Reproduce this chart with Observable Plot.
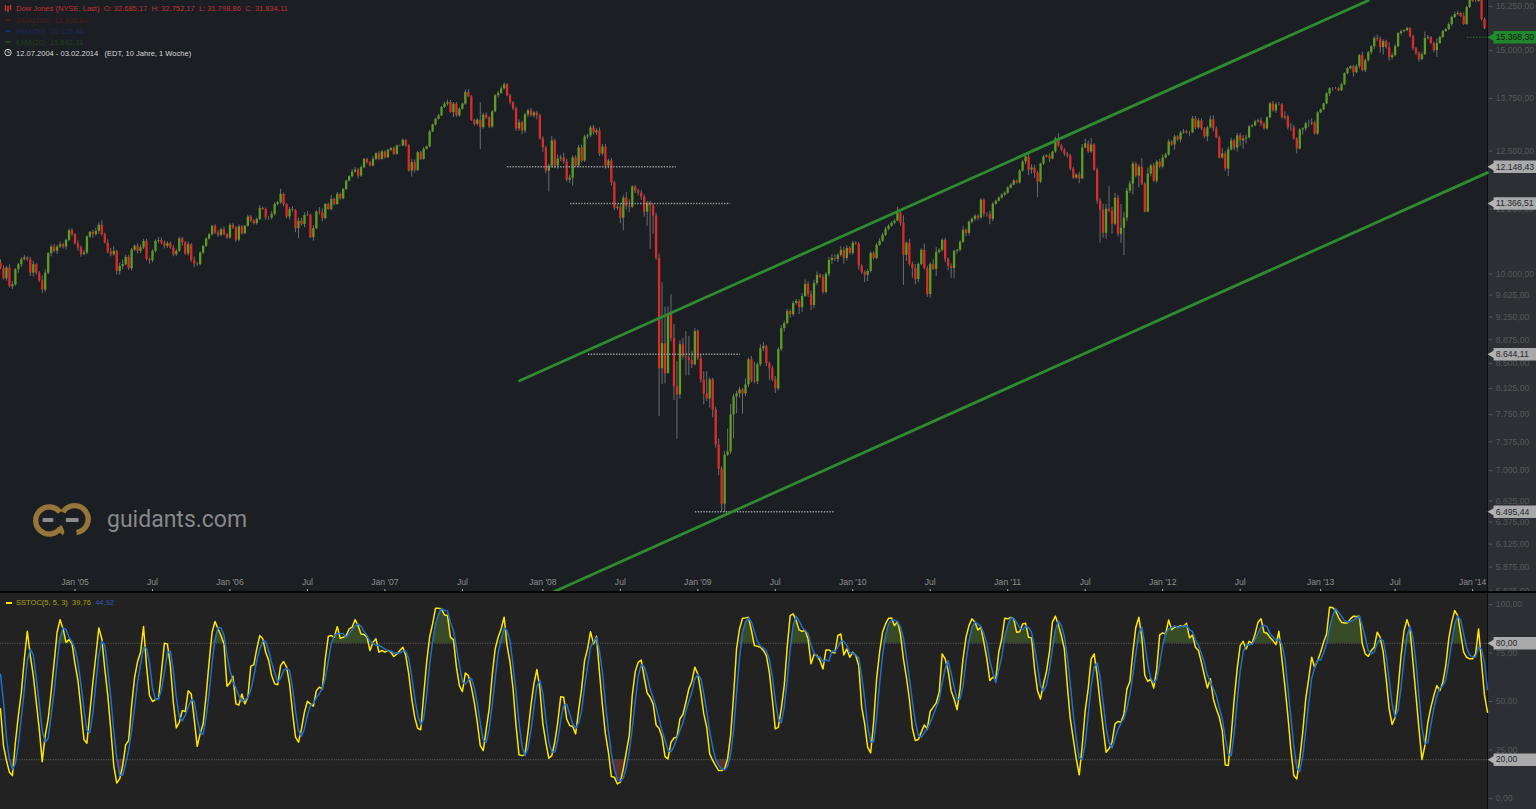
<!DOCTYPE html>
<html><head><meta charset="utf-8">
<script src="https://cdn.jsdelivr.net/npm/d3@7"></script>
<script src="https://cdn.jsdelivr.net/npm/@observablehq/plot@0.6"></script>
<style>
html,body{margin:0;padding:0;background:#1b1e23;overflow:hidden}
#page{position:relative;width:1536px;height:809px;font-family:"Liberation Sans",sans-serif}
#sep{height:2px;background:#050505}
#main svg,#lower svg{display:block}
.lg{position:absolute;font-size:7.55px;line-height:11px;white-space:pre}
.ov{position:absolute;left:0;top:0}
</style></head><body>
<div id="page">
<div id="main"></div><div id="sep"></div><div id="lower"></div>
<svg class="ov" width="300" height="60">
<g stroke="#c0322f"><path d="M5.5 5V11M8 6V12M10.5 5V10" stroke-width="1.6"/></g>
<path d="M5 20H11" stroke="#4f1b1b" stroke-width="2"/><path d="M5 31H11" stroke="#1a2b5c" stroke-width="2"/><path d="M5 42H11" stroke="#1d421f" stroke-width="2"/>
<circle cx="8" cy="52.5" r="3.2" fill="none" stroke="#d5d5d5"/><path d="M8 50.5V52.7H9.7" fill="none" stroke="#d5d5d5" stroke-width=".8"/>
</svg>
<div class="lg" style="left:16px;top:3px;color:#c0322f">Dow Jones (NYSE, Last)  O: 32.685,17  H: 32.752,17  L: 31.798,86  C: 31.834,11</div>
<div class="lg" style="left:16px;top:15px;color:#4f1b1b">SMA(200)  12.935,84</div>
<div class="lg" style="left:16px;top:26px;color:#1a2b5c">EMA(50)  15.316,44</div>
<div class="lg" style="left:16px;top:37px;color:#1d421f">EMA(20)  15.892,31</div>
<div class="lg" style="left:16px;top:48px;color:#d8d8d8">12.07.2004 - 03.02.2014   (EDT, 10 Jahre, 1 Woche)</div>
<svg class="ov" style="left:30px;top:500px" width="62" height="40" viewBox="30 500 64 40">
<g fill="none" stroke="#96753a" stroke-width="5.5"><path d="M61 529A14 14 0 1 1 61 512"/><path d="M64 512A14 14 0 1 1 78 533"/><path d="M60 527Q64 532 62 534"/></g>
<path d="M43 520H54M67 520H80" stroke="#8c8c8c" stroke-width="4"/>
</svg>
<div class="lg" style="left:107px;top:506px;font:23px/28px Roboto,sans-serif;color:#87888a">guidants.com</div>
<svg class="ov" style="top:600px" width="14" height="6"><path d="M6 3H12" stroke="#ffe600" stroke-width="2"/></svg>
<div class="lg" style="left:16px;top:597px;color:#a8a015">SSTOC(5, 5, 3)  39,76  <span style="color:#2a5cad">44,92</span></div>
</div>
<script>
const firstOpen = 10200;
const closes = [
10109,9913,10109,9772,9803,10078,10170,10263,10295,10257,
10016,10170,10016,9876,9713,10016,10376,10503,10420,10503,
10547,10503,10631,10819,10741,10560,10484,10357,10389,10696,
10787,10741,10806,10925,10741,10579,10407,10357,10420,10047,
10140,10170,10307,10096,10445,10515,10420,10484,10611,10263,
10245,10420,10611,10624,10579,10515,10566,10484,10357,10420,
10656,10579,10370,10547,10245,10183,10170,10389,10515,10656,
10741,10905,10773,10728,10839,10741,10676,10925,10872,10631,
10892,10760,10905,11091,11005,10958,11039,11262,11241,11072,
11072,11140,11345,11379,11553,11345,11091,11241,11220,10859,
11005,10938,11119,11126,10683,10859,11193,11173,11059,11345,
11241,11448,11345,11553,11462,11659,11837,11931,12032,12076,
11945,12128,12313,12239,12165,12313,12440,12313,12478,12350,
12516,12555,12425,12616,12616,12747,12616,12054,12239,12069,
12463,12313,12540,12593,12942,13108,13243,13324,13528,13611,
13652,13406,13611,13324,13487,13611,13903,13794,13219,13122,
13219,13043,13340,13275,13059,13422,13819,13878,13996,14099,
13819,13644,13495,13013,13155,12965,13349,13446,13325,13397,
13325,12778,12570,12054,12165,12731,12165,12321,12343,12254,
11859,11902,12343,12165,12570,12276,12825,12848,13036,12918,
12965,12433,12591,12165,12276,11794,11269,11289,11066,11475,
11310,11289,11709,11623,11581,11497,11187,11372,11310,11106,
10288,8420,8812,8344,9290,8893,8148,8030,8796,8606,
8590,8544,8482,9007,8575,8253,8045,7972,8253,7815,
7332,7018,6585,7199,7239,7744,8001,8045,8104,8045,
8178,8559,8238,8223,8482,8733,8765,8497,8420,8253,
8119,8717,9056,9139,9341,9290,9479,9513,9410,9600,
9813,9635,9444,9830,9975,9938,9670,9993,10250,10288,
10269,10345,10439,10288,10477,10382,10572,10553,10140,10029,
9975,10047,10382,10288,10534,10611,10728,10846,10905,10965,
11005,11167,10965,10345,10572,10176,10102,9902,10176,10439,
10102,9635,10176,10084,10401,10439,10630,10269,10140,10102,
10420,10439,10592,10826,10767,10985,11045,11106,11066,11434,
11145,11145,11045,11351,11413,11475,11539,11581,11687,11751,
11837,11794,12054,12254,12366,12076,12121,12010,11816,12209,
12366,12388,12321,12478,12778,12616,12524,12433,12388,12098,
11902,11967,11880,12570,12662,12478,12639,12076,11413,11228,
10767,11248,11207,10945,11475,10747,10866,11066,11623,11773,
12209,11945,12143,11773,11187,11988,12165,11837,12254,12143,
12343,12411,12708,12639,12825,12754,12918,12941,12918,12918,
13251,13036,13203,13013,12825,13036,13227,13013,12801,12343,
12433,12098,12524,12731,12570,12848,12731,12778,12801,13060,
13084,13179,13203,13131,13013,13276,13618,13446,13594,13594,
13276,13300,13036,13036,12778,12547,12989,13013,13131,13131,
13155,12895,13397,13470,13618,13868,13996,13996,13996,13945,
14099,14384,14515,14568,14410,14568,14863,14462,14728,14944,
15108,15330,15302,15080,15246,15080,14809,14863,15108,15470,
15526,15554,15611,15386,15053,14917,14755,14890,15330,15358,
15190,14998,15190,15358,15526,15582,15726,15929,16015,16044,
15956,15726,16220,16460,16400,16400,16428,15869,15611];
const upperWicks = [
60,40,30,60,60,20,30,40,50,20, 50,60,20,30,90,60,20,40,50,30,
50,30,20,30,40,20,60,40,50,20, 20,40,60,50,90,30,60,70,90,20,
60,90,40,40,30,30,50,60,40,40, 30,30,30,60,50,40,40,30,40,30,
40,30,30,50,20,70,30,20,20,20, 20,20,30,40,30,50,20,30,40,30,
40,30,20,40,30,30,30,60,30,30, 30,60,40,30,110,30,20,40,60,20,
60,60,50,80,20,60,20,90,80,20, 30,80,30,40,30,20,20,20,50,60,
30,40,20,20,30,60,20,50,40,30, 30,30,40,20,20,30,20,30,70,60,
30,30,40,20,30,20,20,40,30,50, 60,50,40,40,30,30,60,70,30,20,
40,430,50,50,30,30,30,50,60,50, 30,40,30,40,70,40,40,40,60,40,
40,40,50,40,40,100,40,90,60,110, 60,60,50,50,60,60,40,40,50,60,
50,70,60,60,40,60,40,60,80,50, 120,130,30,30,40,60,50,40,40,50,
60,80,1030,600,130,340,230,380,60,100, 400,340,150,50,30,60,120,330,30,20,
40,80,30,50,310,150,40,40,40,20, 90,30,50,280,30,60,70,20,30,40,
50,30,50,40,40,30,40,40,30,50, 80,50,60,60,60,30,50,30,60,70,
70,30,70,60,50,30,40,30,40,30, 30,40,30,30,40,50,40,40,30,30,
30,120,70,150,30,80,40,70,30,30, 120,40,30,90,90,30,30,40,30,50,
20,20,30,70,30,30,30,30,30,30, 30,30,60,30,20,30,30,30,30,30,
30,20,30,40,60,60,70,60,40,20, 40,30,50,20,40,120,40,30,40,40,
40,30,60,80,110,70,150,30,40,60, 120,100,470,80,100,60,480,120,60,60,
50,40,50,190,30,130,40,60,40,60, 70,40,50,30,40,30,40,60,40,30,
60,60,60,50,30,40,90,100,50,40, 120,60,60,60,40,60,60,80,70,30,
30,40,40,70,30,30,30,60,50,60, 30,120,40,110,60,30,30,30,40,90,
100,40,30,20,20,30,30,30,30,30, 40,20,30,30,40,60,30,90,40,30,
20,60,100,70,50,40,130,70,60,30, 40,30,40,30,40,30,50,60,180,60,
30,50,130,40,40,40,50,40,70,70, 30,100,40,30,30,30,30,30,40];
const lowerWicks = [
30,20,40,20,50,20,60,50,20,30, 60,70,40,30,60,40,30,60,30,60,
30,40,60,30,40,20,60,50,20,30, 30,70,30,60,30,20,30,40,30,70,
70,60,20,30,40,30,50,40,30,20, 70,40,30,40,40,50,40,30,40,30,
20,60,30,40,30,70,30,20,30,20, 20,30,30,40,30,30,30,30,30,40,
30,30,20,20,30,30,30,20,20,50, 50,40,30,30,30,50,40,60,30,80,
190,30,60,20,20,70,20,40,70,30, 20,30,30,20,30,20,20,20,30,20,
60,30,20,30,20,20,30,30,20,30, 20,30,30,20,30,20,30,20,130,60,
30,30,20,20,20,20,30,20,20,20, 50,20,120,30,30,20,30,20,30,40,
40,510,40,40,40,40,20,60,20,30, 30,50,50,60,60,90,60,60,30,50,
100,30,100,60,450,50,60,70,60,50, 40,70,170,30,40,40,30,60,40,50,
60,60,40,70,60,60,50,50,110,250, 80,110,30,50,60,70,100,280,850,360,
40,700,240,150,0,50,200,620,60,50, 280,230,60,20,30,50,160,40,130,110,
40,80,90,95,20,30,330,240,60,290, 40,40,30,30,40,30,50,40,180,30,
70,30,30,60,20,60,30,30,120,80, 20,50,90,60,40,20,30,30,40,80,
40,60,30,110,50,30,40,20,70,30, 130,110,30,30,30,20,20,20,30,20,
30,0,60,550,110,30,180,90,60,30, 30,50,60,20,130,30,30,60,80,180,
180,50,30,20,60,50,30,40,50,20, 60,60,110,50,20,20,20,30,30,20,
20,20,20,30,60,120,90,120,330,30, 30,20,80,20,30,30,40,60,50,40,
30,30,100,0,20,30,30,30,60,650, 100,120,30,200,30,50,170,525,70,50,
230,40,250,30,10,10,60,30,50,40, 40,20,30,30,120,40,70,30,30,90,
10,40,30,40,40,110,20,70,20,20, 30,50,160,20,60,90,130,190,120,20,
20,20,30,60,30,30,20,30,60,30, 30,50,50,80,30,110,20,120,60,80,
40,30,30,20,20,20,70,60,20,20, 20,20,30,30,110,30,60,30,50,40,
60,80,60,150,200,40,100,60,30,30, 50,30,30,40,60,50,70,30,20,40,
30,60,180,20,20,20,30,60,30,40, 30,30,20,30,30,30,30,40,30];
const stochK = [
46.2,27.3,19.6,13.5,11.8,29,42.8,54.8,72,86.2,
73.7,63.4,49.6,35.9,19,32.4,41,54.8,70.2,85.7,
92.2,87.4,80.5,81.9,79.7,69.4,60.8,46.2,30.4,28.5,
44.5,59.9,73.7,87.9,82.3,66.8,53.1,35.9,17,8,
10.1,17,27.6,29.9,47.9,62.5,70.6,75.4,88.6,68.5,
53.1,50,51,51.3,65.1,80,79.7,68.5,49.6,36.4,
39.3,45.3,44.8,55.6,53.9,41,26.9,33.3,38.5,53.1,
70.2,85.7,91.2,87.4,84,79.7,57.9,59.6,63,48.8,
48.2,53.9,48.8,52.2,68.2,68.9,77.1,84,82.3,75.4,
71.1,63.4,59.1,58.6,68.5,70.6,67.7,59.1,44.5,31.6,
29,35.9,44.5,50.1,48.8,47.6,55.6,57.4,56.5,72,
83.6,84,83.1,88.6,82.6,83.1,84,87.4,88.3,92.2,
89.1,84.8,84.5,83.1,76.3,80.5,82.3,75.4,76.3,75.4,
76.3,75.4,73.2,74.5,76.3,78,73.7,64.2,51.3,41.9,
36.2,35.4,53.1,70.2,83.1,90,98.1,98.1,97.7,94.6,
94.3,83.1,81.9,67.7,58.2,55.1,64.7,63.4,57.4,49.6,
39.3,27.3,24.7,35.9,46.2,63.4,77.1,83.1,
87.4,93.4,78.8,70.2,56.5,37.6,22.5,22.1,22.5,34.2,
47.9,59.1,66.5,56.5,38.5,29,20.8,22.1,29,39.3,
52.5,52.2,41,37.6,37.1,33.3,45.3,56.5,71.1,77.1,
86,79.7,83.6,65.1,47.9,33.3,23.9,11.3,11,7.5,
8.4,15.3,23.9,32.4,53.1,65.4,70.2,71.4,62.5,54.4,
52.2,48.8,37.9,36.2,31.6,21.6,20.4,29,31.2,31.6,
41,43.3,49.6,56.5,60.3,67.7,64.2,54.8,43.6,36.7,
23,19.6,17,14.4,14.4,15.3,20.4,32.4,53.1,77.1,
87.4,92.9,93.1,93.4,86.6,78.8,78.5,78,76.3,73.7,
65.1,51.3,35.9,36.7,46.2,58.2,78,94.3,95.2,91.7,
86.9,86.2,86.6,82.3,69.4,74.2,73.7,71.1,66.8,76.6,
76.6,75.4,75,84,84.8,74,77.1,72.8,75.4,73.7,
68.5,47.1,38.5,26.4,23.5,39.3,61.7,75.4,85.7,90,
92.9,93.1,89.1,91.2,84.8,72,62.5,51.3,36.2,29.9,
30.4,34.2,37.9,35.9,45,47.1,49.3,54.8,74.5,72,
65.9,55.6,51.3,45.8,56.5,72,83.1,89.1,92.6,90.9,
86.9,88.3,80.5,72,60.8,62.5,61.7,75.4,
82.3,92.9,92.6,93.4,92.6,85.7,86,90,90.3,83.1,
82.8,66.8,55.6,51.3,59.1,65.4,75.4,90.9,94,89.5,
84,77.1,58.2,41,30.7,20.4,12.2,27.3,45.3,56.5,
72,74.5,63.4,49.6,36.7,23.9,25.6,29,38.5,39.7,
39.3,43.6,56.5,60.3,75.4,88.3,93.4,83.1,63.4,60.3,
61.7,57,66.8,84.3,85.4,84.8,92,87,88.3,88.3,
89.1,88.6,90.3,82.8,84.3,78,76.3,70.2,63.4,57,
61.7,51.3,46.2,41.9,35,17.3,17,32.4,51.3,66.8,
78.8,81,77.1,81,80,84.8,90.9,92.6,85.7,85.2,
83.1,81.4,79.3,86.2,72,58.2,42.8,25.6,11.8,10.1,
20.4,34.2,51.3,61.7,72.8,67.7,71.1,75.4,80.5,84.8,
98.6,98.4,96.9,93.4,90.9,90.5,90.5,92.6,94,93.8,
94,79.7,74.5,73.3,76.3,78,85.7,83.1,75.4,61.7,
46.2,38.1,41.9,56.5,73.7,86.6,92.2,87.4,70.2,53.1,
35.9,20.1,27.3,39.3,47,53.1,58.2,55.6,59.9,68.5,
82.3,90.9,96.9,94.3,84.8,75.4,72.8,72,72,74.5,
87.4,70.2,53.1,44.5];
const stochD = [
64,50,31,20,15,18,28,42,56,71,
77,74,62,49,35,29,31,43,55,70,
83,88,87,83,81,77,70,59,46,35,
34,44,59,74,81,79,67,52,35,21,
12,12,18,25,35,47,60,69,78,77.5,
70,57,51,51,56,65,75,76,66,52,
42,40,43,47,51,50,41,34,33,42,
54,70,82,88,88,84,74,66,60,57,
53,50,51,52,56,63,71,77,81,81,
76,70,65,60,62,66,67,66,57,45,
35,32,36,43,48,49,52,54,57,62,
71,80,84,85,85,85,83,85,87,89,
90,88.7,86,84,81,80,79,79,78,77,
76,76,75,75,75,76,76,72,63,52,
43,38,41,53,69,81,90,95,98,97,
96.6,90.7,86.5,77.6,69,60,59,61,62,57,
49,39,30,29,36,48,62,75,
82,88,86.5,81,68.5,55,39,27,22,26,
35,47,58,61,54,41,29,24,24,30,
40.3,48,48.6,43.6,38.6,36,39,45,57.6,68,
78,81,83,76,65,49,35,23,15,10,
9,10.5,15.9,24,36,50,63,69,68,63,
56.4,52,47,41,35,30,25,24,27,31,
35,39,45,50,55,61.5,64,62,54,45,
34.4,26.4,20,17,15.3,14.7,16.7,22.7,35,54,
72.5,85.8,91,93,91,86,81,78.5,77.6,76,
71.7,63,50.8,41,39,47,61,77,89,94,
91.6,88.3,86.6,85,79,75,73,73,70.5,71.5,
70.8,76,75.6,78,81,81,79,75,75,74,
72.5,63,51.4,37,29,29.4,41.5,59,74,84,
90,92,92,91,88.5,82.7,73,62,50,39.5,
32.5,31.5,34,36,39,43,47,51,59.5,67,
71,64.6,57.6,51,51.2,58,71,81,88.3,90.9,
90,88.7,85,80,71,65,59.7,66.5,
73,83.5,89,93,92.9,90.6,88,87,88.8,88,
85.7,77.6,68.4,57.9,55.4,58.6,66.6,77.2,86.8,91.5,
89.2,83.5,73,58.8,43.3,30.7,21,20,28.3,43,
58,67.8,70,62.5,49.7,36.7,28.7,26,31,35.7,
39,41.2,46.5,53.5,64,74.7,85.4,88.3,80,69,
61.8,59.7,61.5,69.4,78.9,85,87.4,88,89,88,
88.7,88.7,89.3,87,86,81.7,79,74.7,69.9,63.6,
60,56.7,53,46.5,41,31.4,23,22,33.6,50.5,
65.6,75.6,79,79.4,79.4,82,85.2,88.6,89.4,88.6,
85,83.4,81.4,82.3,79.5,72.4,57.7,42,27,15.8,
14,21.6,35,49,62,67.4,71.5,71.4,75,80,
88,94,98,96,94,91.6,91,91.2,92,93,
94,89,83,76,74.5,75.6,80,82.3,81.4,73.4,
61.3,48.7,42,45.5,57.4,72,84,88.7,83,70.3,
53,36.4,28,28.9,38,46.5,53,57,58,61.3,
70.2,80.5,90,94,92,84.7,77.7,74,73,73,
78,77,70,56];
const priceTicks = [16250,15000,13750,12500,11250,10000,9625,9250,8875,8500,8125,7750,7375,7000,6625,6375,6125,5875,5625];
const stochTicks = [100,75,50,25,0];
const timeWeeks = [25,51,77,103,129,155,182,208,234,260,286,312,338,364,390,416,443,468,494];
const timeLabels = ["Jan '05","Jul","Jan '06","Jul","Jan '07","Jul","Jan '08","Jul","Jan '09","Jul","Jan '10","Jul","Jan '11","Jul","Jan '12","Jul","Jan '13","Jul","Jan '14"];
const channelUpper = [{week:174.2,price:8238},{week:459,price:16428}];
const channelLower = [{week:184.6,price:5603},{week:499,price:12020}];
const levelLines = [
 {price:12148.43,from:170.1,to:226.8},
 {price:11366.51,from:191.3,to:245},
 {price:8644.11,from:197.3,to:248.3},
 {price:6495.44,from:233.2,to:279.9}];
const lastPrice = 15368.30;

const fmt = d3.formatLocale({decimal:",",thousands:".",grouping:[3],currency:["",""]}).format(",.2f");
const FONT = "Liberation Sans";
const AXIS_LEFT = 501.8, STRIP_R = 515.5;
const bg = m => `linear-gradient(to right, ${m} 1487px, #0c0c0c 1487px, #0c0c0c 1488px, #2e2f34 1488px)`;

const candles = closes.map((c,i)=>{
  const o = i ? closes[i-1] : firstOpen;
  return {week:i, open:o, close:c, high:Math.max(o,c)+upperWicks[i], low:Math.min(o,c)-lowerWicks[i]};
});
const xScale = {domain:[0,499], range:[0,1487], axis:null};

function pill(data, yKey, fill, textFill){
  return [
    Plot.ruleY(data,{y:yKey,x1:()=>501.2,x2:()=>STRIP_R,stroke:fill,strokeWidth:12.5,strokeOpacity:.93}),
    Plot.dot(data,{y:yKey,x:()=>501.4,symbol:"triangle",rotate:-90,r:4.6,fill,stroke:"none"}),
    Plot.text(data,{y:yKey,x:()=>AXIS_LEFT,text:d=>fmt(d),fill:textFill,textAnchor:"start",fontSize:8.6,fontFamily:FONT})
  ];
}

const main = Plot.plot({
  width:1536,height:591,marginTop:0,marginRight:0,marginBottom:0,marginLeft:0,
  style:{background:bg("#1b1e23"),color:"#555"},
  x:xScale,
  y:{type:"log",domain:[16250,5875],range:[6,566.6],axis:null},
  marks:[
    Plot.ruleX(candles,{x:"week",y1:"low",y2:"high",stroke:"#6c6d6e",strokeWidth:1}),
    Plot.ruleX(candles,{filter:d=>d.close>=d.open,x:"week",y1:"open",y2:"close",stroke:"#5b9f20",strokeWidth:2.3}),
    Plot.ruleX(candles,{filter:d=>d.close<d.open,x:"week",y1:"open",y2:"close",stroke:"#df2a2a",strokeWidth:2.3}),
    Plot.ruleY(levelLines,{y:"price",x1:"from",x2:"to",stroke:"#9a9a9a",strokeWidth:1.4,strokeDasharray:"1.4,1.4"}),
    Plot.line(channelUpper,{x:"week",y:"price",stroke:"#2e8b2f",strokeWidth:2.8}),
    Plot.line(channelLower,{x:"week",y:"price",stroke:"#2e8b2f",strokeWidth:2.8}),
    Plot.ruleY([lastPrice],{x1:()=>492.3,x2:()=>499,stroke:"#2a7a2c",strokeWidth:1,strokeDasharray:"1.5,1.5"}),
    Plot.text(timeLabels,{x:(d,i)=>timeWeeks[i],text:d=>d,frameAnchor:"bottom",dy:-7,fill:"#8d8e90",fontSize:8.6,fontFamily:FONT}),
    Plot.ruleX(timeWeeks,{x:d=>d,y1:()=>5640,y2:()=>5612,stroke:"#b5b5b5",strokeWidth:1}),
    Plot.ruleY(priceTicks,{y:d=>d,x1:()=>499.6,x2:()=>500.8,stroke:"#55575b"}),
    Plot.text(priceTicks,{y:d=>d,x:()=>AXIS_LEFT,text:d=>fmt(d),fill:"#55575b",textAnchor:"start",fontSize:8.6,fontFamily:FONT}),
    ...pill([12148.43,11366.51,8644.11,6495.44],d=>d,"#b4b4b4","#26272a"),
    ...pill([lastPrice],d=>d,"#1f8f2c","#0e1a10")
  ]
});
document.getElementById("main").appendChild(main);

const stoch = stochK.map((k,i)=>({week:i,k,d:stochD[i]}));
const lower = Plot.plot({
  width:1536,height:216,marginTop:0,marginRight:0,marginBottom:0,marginLeft:0,
  style:{background:bg("#222222"),color:"#555"},
  x:xScale,
  y:{domain:[0,100],range:[205,11],axis:null},
  marks:[
    Plot.areaY(stoch,{x:"week",y1:()=>80,y2:d=>Math.min(Math.max(d.k,80),Math.max(d.d,80)),fill:"#384b27"}),
    Plot.areaY(stoch,{x:"week",y1:()=>20,y2:d=>Math.max(Math.min(d.k,20),Math.min(d.d,20)),fill:"#5a312f"}),
    Plot.ruleY([80,20],{x1:()=>0,x2:()=>499,stroke:"#5a5a5a",strokeWidth:1,strokeDasharray:"1.2,1.2"}),
    Plot.line(stoch,{x:"week",y:"k",stroke:"#ffe600",strokeWidth:1.5}),
    Plot.line(stoch,{x:"week",y:"d",stroke:"#1f6fcf",strokeWidth:1.5}),
    Plot.ruleY(stochTicks,{y:d=>d,x1:()=>499.6,x2:()=>500.8,stroke:"#55575b"}),
    Plot.text(stochTicks,{y:d=>d,x:()=>AXIS_LEFT,text:d=>fmt(d),fill:"#55575b",textAnchor:"start",fontSize:8.6,fontFamily:FONT}),
    ...pill([80,20],d=>d,"#b4b4b4","#26272a")
  ]
});
document.getElementById("lower").appendChild(lower);
</script>
</body></html>
